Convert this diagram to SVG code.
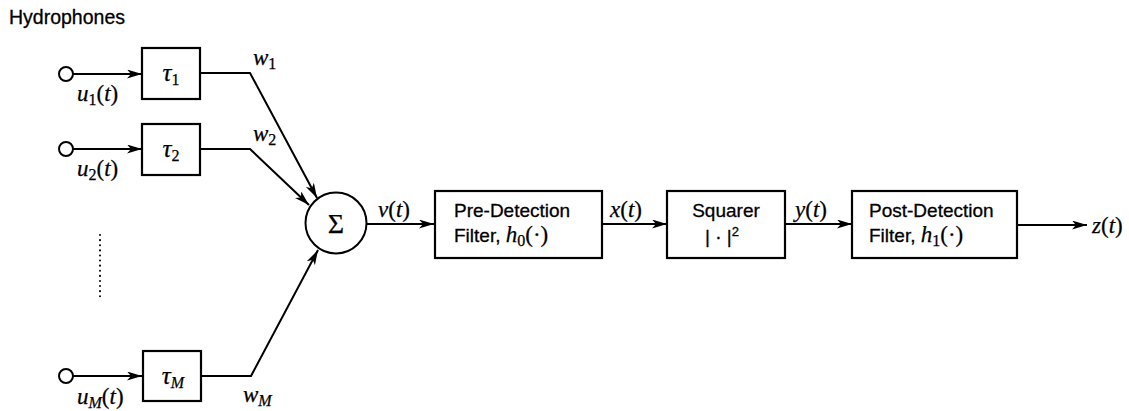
<svg xmlns="http://www.w3.org/2000/svg" width="1129" height="411" viewBox="0 0 1129 411">
<defs>
<marker id="arr" markerUnits="userSpaceOnUse" markerWidth="16" markerHeight="10" refX="15" refY="4.5" orient="auto">
<path d="M0,0 L15,4.5 L0,9 L4,4.5 z" fill="#000"/>
</marker>
<style>
.box{fill:#fff;stroke:#000;stroke-width:2.2}
.ln{fill:none;stroke:#000;stroke-width:2}
.src{fill:#fff;stroke:#000;stroke-width:2}
.sans{font-family:"Liberation Sans",Arial,sans-serif;font-size:19px;fill:#000;stroke:#000;stroke-width:0.3}
.math{font-family:"Liberation Serif","Times New Roman",serif;font-size:23px;fill:#000;stroke:#000;stroke-width:0.25}
.it{font-style:italic}
.sub{font-size:16px}
</style>
</defs>
<rect width="1129" height="411" fill="#fff"/>
<text x="9" y="24" class="sans" style="font-size:19.5px">Hydrophones</text>

<g id="connectors">
<line class="ln" x1="73" y1="74" x2="142" y2="74" marker-end="url(#arr)"/>
<line class="ln" x1="73" y1="149" x2="142" y2="149" marker-end="url(#arr)"/>
<line class="ln" x1="73" y1="376" x2="142" y2="376" marker-end="url(#arr)"/>
<polyline class="ln" points="201,73 250,73 317,198" marker-end="url(#arr)"/>
<polyline class="ln" points="201,149 250,149 309,205" marker-end="url(#arr)"/>
<polyline class="ln" points="202,376 251,376 318,250" marker-end="url(#arr)"/>
<line class="ln" x1="367" y1="224" x2="434" y2="224" marker-end="url(#arr)"/>
<line class="ln" x1="602" y1="224" x2="667" y2="224" marker-end="url(#arr)"/>
<line class="ln" x1="785" y1="224" x2="852" y2="224" marker-end="url(#arr)"/>
<line class="ln" x1="1017" y1="225" x2="1087" y2="225" marker-end="url(#arr)"/>
<line x1="100" y1="235" x2="100" y2="298" stroke="#000" stroke-width="2" stroke-dasharray="0.1 5" stroke-linecap="round"/>
</g>

<g id="src1"><circle class="src" cx="66" cy="74" r="7"/>
<text x="77" y="101" class="math"><tspan class="it">u</tspan><tspan class="sub" dy="4">1</tspan><tspan dy="-4">(</tspan><tspan class="it">t</tspan>)</text></g>
<g id="src2"><circle class="src" cx="66" cy="149" r="7"/>
<text x="77" y="176" class="math"><tspan class="it">u</tspan><tspan class="sub" dy="4">2</tspan><tspan dy="-4">(</tspan><tspan class="it">t</tspan>)</text></g>
<g id="srcM"><circle class="src" cx="66" cy="376" r="7"/>
<text x="77" y="404" class="math"><tspan class="it">u</tspan><tspan class="sub it" dy="4">M</tspan><tspan dy="-4">(</tspan><tspan class="it">t</tspan>)</text></g>

<g id="tau1"><rect class="box" x="142" y="48" width="58" height="51"/>
<text x="171" y="81" class="math" text-anchor="middle" style="font-size:25px"><tspan class="it">τ</tspan><tspan class="sub" dy="4">1</tspan></text></g>
<g id="tau2"><rect class="box" x="142" y="124" width="58" height="51"/>
<text x="171" y="157" class="math" text-anchor="middle" style="font-size:25px"><tspan class="it">τ</tspan><tspan class="sub" dy="4">2</tspan></text></g>
<g id="tauM"><rect class="box" x="143" y="351" width="58" height="50"/>
<text x="173" y="384" class="math" text-anchor="middle" style="font-size:25px"><tspan class="it">τ</tspan><tspan class="sub it" dy="4">M</tspan></text></g>

<g id="wlabels">
<text x="253" y="65" class="math"><tspan class="it">w</tspan><tspan class="sub" dy="4">1</tspan></text>
<text x="253" y="141" class="math"><tspan class="it">w</tspan><tspan class="sub" dy="4">2</tspan></text>
<text x="243" y="402" class="math"><tspan class="it">w</tspan><tspan class="sub it" dy="4">M</tspan></text>
</g>

<g id="sum"><circle cx="336" cy="223" r="30.5" fill="#fff" stroke="#000" stroke-width="2"/>
<text x="336" y="233" class="math" text-anchor="middle" style="font-size:28px">Σ</text></g>

<g id="sig">
<text x="378" y="217" class="math"><tspan class="it">v</tspan>(<tspan class="it">t</tspan>)</text>
<text x="610" y="217" class="math"><tspan class="it">x</tspan>(<tspan class="it">t</tspan>)</text>
<text x="795" y="217" class="math"><tspan class="it">y</tspan>(<tspan class="it">t</tspan>)</text>
<text x="1092" y="233" class="math"><tspan class="it">z</tspan>(<tspan class="it">t</tspan>)</text>
</g>

<g id="pre"><rect class="box" x="435" y="191" width="167" height="67"/>
<text x="454" y="217" class="sans">Pre-Detection</text>
<text x="454" y="242" class="sans">Filter, <tspan class="math it">h</tspan><tspan class="math sub" dy="4">0</tspan><tspan class="math" dy="-4">(·)</tspan></text></g>

<g id="sq"><rect class="box" x="667" y="191" width="118" height="67"/>
<text x="726" y="217" class="sans" text-anchor="middle">Squarer</text>
<text x="722" y="243" class="sans" text-anchor="middle">| · |<tspan style="font-size:13px" dy="-7">2</tspan></text></g>

<g id="post"><rect class="box" x="852" y="191" width="165" height="67"/>
<text x="869" y="217" class="sans">Post-Detection</text>
<text x="869" y="242" class="sans">Filter, <tspan class="math it">h</tspan><tspan class="math sub" dy="4">1</tspan><tspan class="math" dy="-4">(·)</tspan></text></g>
</svg>
